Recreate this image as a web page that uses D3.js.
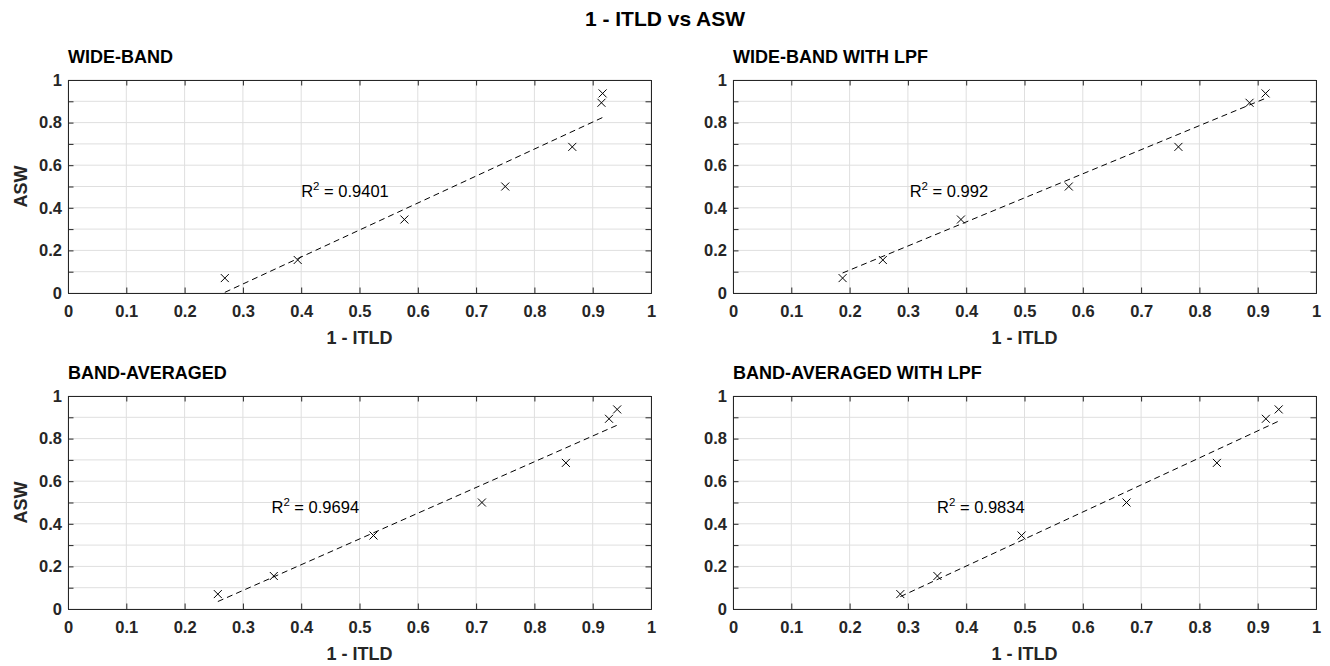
<!DOCTYPE html>
<html>
<head>
<meta charset="utf-8">
<script src="https://cdn.jsdelivr.net/npm/d3@7"></script>
<style>
  body { margin: 0; background: #fff; }
  svg { font-family: "Liberation Sans", Arial, Helvetica, sans-serif; }
</style>
</head>
<body>
<div id="chart"></div>
<script>
// ASW values (same for every panel)
var asw = [0.07, 0.155, 0.345, 0.5, 0.686, 0.893, 0.937];
// 1 - ITLD for each method
var itldWide = [0.269, 0.394, 0.577, 0.750, 0.865, 0.915, 0.917];
var itldWideLpf = [0.188, 0.257, 0.391, 0.576, 0.764, 0.886, 0.9135];
var itldBand = [0.257, 0.353, 0.524, 0.710, 0.854, 0.928, 0.942];
var itldBandLpf = [0.287, 0.3506, 0.495, 0.675, 0.830, 0.914, 0.936];

var panelTitles = ["WIDE-BAND", "WIDE-BAND WITH LPF", "BAND-AVERAGED", "BAND-AVERAGED WITH LPF"];
var r2Values = ["0.9401", "0.992", "0.9694", "0.9834"];
// fitted line value at min and max of 1 - ITLD
var fitStart = [0.003, 0.094, 0.035, 0.058];
var fitEnd = [0.824, 0.914, 0.863, 0.882];
// R^2 label position (data units)
var r2X = [0.40, 0.303, 0.349, 0.35];
var r2Y = [0.45, 0.45, 0.45, 0.45];

var xTickValues = [0, 0.1, 0.2, 0.3, 0.4, 0.5, 0.6, 0.7, 0.8, 0.9, 1];
var yTickValues = [0, 0.1, 0.2, 0.3, 0.4, 0.5, 0.6, 0.7, 0.8, 0.9, 1];
var yTickLabels = ["0", "", "0.2", "", "0.4", "", "0.6", "", "0.8", "", "1"];

var xSeries = [itldWide, itldWideLpf, itldBand, itldBandLpf];

var width = 1330, height = 666;
var axisColor = "#262626", gridColor = "#dfdfdf";

var svg = d3.select("#chart")
    .append("svg")
    .attr("width", width)
    .attr("height", height);

svg.append("rect").attr("width", width).attr("height", height).attr("fill", "#fff");

// overall title
svg.append("text")
    .attr("x", 665)
    .attr("y", 26)
    .attr("text-anchor", "middle")
    .attr("font-size", 21)
    .attr("font-weight", "bold")
    .attr("fill", "#000")
    .text("1 - ITLD vs ASW");

// panel boxes: left, top, width, height
var panels = [
    { left: 68, top: 80 },
    { left: 733, top: 80 },
    { left: 68, top: 396 },
    { left: 733, top: 396 }
];
var pw = 583, ph = 213;

panels.forEach(function (p, i) {
    var g = svg.append("g").attr("transform", "translate(" + p.left + "," + p.top + ")");

    var x = d3.scaleLinear().domain([0, 1]).range([0, pw]);
    var y = d3.scaleLinear().domain([0, 1]).range([ph, 0]);

    // grid
    g.append("g").selectAll("line.gx")
        .data(xTickValues)
        .enter().append("line")
        .attr("x1", function (d) { return x(d); })
        .attr("x2", function (d) { return x(d); })
        .attr("y1", 0).attr("y2", ph)
        .attr("stroke", gridColor).attr("stroke-width", 1);
    g.append("g").selectAll("line.gy")
        .data(yTickValues)
        .enter().append("line")
        .attr("y1", function (d) { return y(d); })
        .attr("y2", function (d) { return y(d); })
        .attr("x1", 0).attr("x2", pw)
        .attr("stroke", gridColor).attr("stroke-width", 1);

    // fit line
    var xs = xSeries[i];
    var fit = [[d3.min(xs), fitStart[i]], [d3.max(xs), fitEnd[i]]];
    g.append("path")
        .datum(fit)
        .attr("fill", "none")
        .attr("stroke", "#000")
        .attr("stroke-width", 1)
        .attr("stroke-dasharray", "6,4")
        .attr("d", d3.line()
            .x(function (d) { return x(d[0]); })
            .y(function (d) { return y(d[1]); }));

    // markers
    var pts = xs.map(function (v, j) { return [v, asw[j]]; });
    var s = 4;
    g.append("g").selectAll("path.mk")
        .data(pts)
        .enter().append("path")
        .attr("d", function (d) {
            var cx = x(d[0]), cy = y(d[1]);
            return "M" + (cx - s) + "," + (cy - s) + "L" + (cx + s) + "," + (cy + s) +
                "M" + (cx - s) + "," + (cy + s) + "L" + (cx + s) + "," + (cy - s);
        })
        .attr("stroke", "#000")
        .attr("stroke-width", 1)
        .attr("fill", "none");

    // R^2 text
    var t = g.append("text")
        .attr("x", x(r2X[i]))
        .attr("y", y(r2Y[i]))
        .attr("font-size", 16.5)
        .attr("fill", "#000");
    t.append("tspan").text("R");
    t.append("tspan").attr("font-size", 11.5).attr("dy", -7).text("2");
    t.append("tspan").attr("dy", 7).text(" = " + r2Values[i]);

    // axes (ticks inward on all sides)
    var xAxis = d3.axisBottom(x).tickValues(xTickValues).tickSize(-5.5).tickPadding(12)
        .tickFormat(d3.format("~g"));
    var yAxis = d3.axisLeft(y).tickValues(yTickValues).tickSize(-5.5).tickPadding(6)
        .tickFormat(function (d, k) { return yTickLabels[k]; });

    var gx = g.append("g").attr("transform", "translate(0," + ph + ")").call(xAxis);
    var gy = g.append("g").call(yAxis);
    g.append("g").call(d3.axisTop(x).tickValues(xTickValues).tickSize(-5.5).tickFormat(""));
    g.append("g").attr("transform", "translate(" + pw + ",0)")
        .call(d3.axisRight(y).tickValues(yTickValues).tickSize(-5.5).tickFormat(""));

    g.selectAll(".domain").attr("stroke", axisColor);
    g.selectAll(".tick line").attr("stroke", axisColor);
    [gx, gy].forEach(function (a) {
        a.selectAll("text")
            .attr("font-size", 16.5)
            .attr("font-weight", "bold")
            .attr("fill", axisColor)
            .style("font-family", "'Liberation Sans', Arial, Helvetica, sans-serif");
    });

    // x label
    g.append("text")
        .attr("x", pw / 2)
        .attr("y", ph + 51)
        .attr("text-anchor", "middle")
        .attr("font-size", 18)
        .attr("font-weight", "bold")
        .attr("fill", axisColor)
        .text("1 - ITLD");

    // y label (only the left column)
    if (i % 2 === 0) {
        g.append("text")
            .attr("transform", "translate(-41," + (ph / 2) + ") rotate(-90)")
            .attr("text-anchor", "middle")
            .attr("font-size", 18)
            .attr("font-weight", "bold")
            .attr("fill", axisColor)
            .text("ASW");
    }

    // panel title
    g.append("text")
        .attr("x", 0)
        .attr("y", -17)
        .attr("font-size", 18)
        .attr("font-weight", "bold")
        .attr("fill", "#000")
        .text(panelTitles[i]);
});
</script>
</body>
</html>
